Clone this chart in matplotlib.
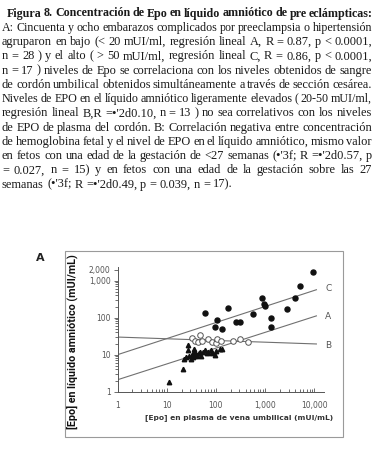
import matplotlib
matplotlib.use("Agg")
import matplotlib.pyplot as plt
from matplotlib.patches import Rectangle

W, H = 378, 453

# Caption lines (one entry per printed line)
caption = [
    "Figura 8. Concentración de Epo en líquido amniótico de pre eclámpticas:",
    "A: Cincuenta y ocho embarazos complicados por preeclampsia o hipertensión",
    "agruparon en bajo (< 20 mUI/ml, regresión lineal A, R = 0.87,  p < 0.0001,",
    "n = 28 ) y el alto ( > 50 mUI/ml,  regresión lineal C,      R = 0.86, p < 0.0001,",
    "n = 17 ) niveles de Epo se correlaciona con los niveles obtenidos de sangre",
    "de cordón umbilical obtenidos simultáneamente a  través de sección cesárea.",
    "Niveles de EPO en el líquido amniótico  ligeramente elevados ( 20-50 mUI/ml,",
    "regresión lineal B,R =•'2d0.10, n = 13 ) no sea correlativos con los niveles",
    "de EPO de plasma del cordón.  B: Correlación negativa entre concentración",
    "de hemoglobina fetal y el nivel de EPO en el líquido amniótico, mismo valor",
    "en  fetos con una edad de la gestación de <27 semanas (•'3f; R =•'2d0.57, p",
    "= 0.027,    n = 15) y en fetos con una edad de la gestación sobre las 27",
    "semanas (•'3f; R =•'2d0.49, p = 0.039,  n = 17).",
]

# Group A (triangles): low amniotic Epo
a_x = [11, 21, 22, 25, 27, 27, 29, 31, 32, 34, 35, 36, 38, 40, 42, 45, 48, 50,
       55, 60, 65, 70, 80, 85, 95, 100, 120, 130]
a_y = [1.8, 4.2, 7.8, 8.5, 18, 13, 9.5, 7.5, 10, 11, 8.5, 14, 12, 9.5, 10, 11,
       12, 9, 11.5, 13, 11, 12, 13, 11, 10, 12.5, 14, 14]
# Group B (open circles): slightly elevated
b_x = [33, 48, 38, 44, 52, 68, 82, 100, 105, 128, 220, 310, 450]
b_y = [29, 35, 24, 22, 24, 27, 22, 21, 26, 23, 23, 26, 22]
# Group C (filled circles): high
c_x = [60, 104, 95, 131, 174, 260, 310, 576, 850, 950, 1000, 1290, 1320,
       2750, 4040, 5120, 9300]
c_y = [136, 87, 55, 49, 178, 75, 77, 123, 332, 240, 205, 101, 57,
       170, 338, 700, 1670]

# Regression lines (end points)
line_x = [1, 11000]
line_a = [2.1, 112]
line_b = [30, 19.5]
line_c = [10, 570]

fig = plt.figure(figsize=(W / 100, H / 100), dpi=100)
renderer = fig.canvas.get_renderer()

# ---- justified caption ----
def put_line(text, y_px, x0, x1, justify=True, bold=False, size=8.9):
    words = text.split()
    kw = dict(fontsize=size, family="Liberation Serif", color="#1a1a1a",
              va="baseline", ha="left",
              fontweight="bold" if bold else "normal")
    arts = [fig.text(0, 1 - y_px / H, w, **kw) for w in words]
    widths = [a.get_window_extent(renderer).width for a in arts]
    sp = fig.text(0, 0, "a a", **kw)
    sp2 = fig.text(0, 0, "aa", **kw)
    space = sp.get_window_extent(renderer).width - sp2.get_window_extent(renderer).width
    sp.remove(); sp2.remove()
    gap = space
    if justify and len(words) > 1:
        gap = (x1 - x0 - sum(widths)) / (len(words) - 1)
        if gap < 0.6 * space:
            # squeeze the font a little so the line still fits
            for a in arts:
                a.remove()
            return put_line(text, y_px, x0, x1, justify, bold, size * 0.97)
    x = x0
    for a, w in zip(arts, widths):
        a.set_x(x / W)
        x += w + gap

line_h = 14.26
base0 = 16.5
for i, ln in enumerate(caption):
    if i == 0:
        put_line(ln, base0, 7, 373, bold=True)
    else:
        put_line(ln, base0 + i * line_h, 2, 372, justify=(i < len(caption) - 1))

# ---- panel frame ----
fig.patches.append(Rectangle((65 / W, 1 - 437 / H), (343 - 65) / W, (437 - 251) / H,
                             transform=fig.transFigure, fill=False,
                             edgecolor="#9a9a9a", linewidth=0.8))
fig.text(40 / W, 1 - 258 / H, "A", fontsize=8, fontweight="bold",
         family="DejaVu Sans", ha="center", va="center", color="#222222")

# ---- scatter panel ----
ax = fig.add_axes([117.5 / W, 1 - 391.7 / H, (324 - 117.5) / W, (391.7 - 266.7) / H])
ax.set_xscale("log")
ax.set_yscale("log")
ax.set_xlim(1, 15700)
ax.set_ylim(1, 2390)

ax.plot(line_x, line_a, color="#707070", lw=0.8)
ax.plot(line_x, line_b, color="#707070", lw=0.8)
ax.plot(line_x, line_c, color="#707070", lw=0.8)

ax.plot(a_x, a_y, "^", ms=3.2, color="#111111", mec="#111111", ls="none")
ax.plot(b_x, b_y, "o", ms=4.0, mfc="white", mec="#555555", mew=0.7, ls="none")
ax.plot(c_x, c_y, "o", ms=3.6, color="#111111", ls="none")

for lab, yv in zip(["C", "A", "B"], [630, 108, 18]):
    ax.text(16500, yv, lab, fontsize=6.5, color="#555555", ha="left", va="center",
            family="DejaVu Sans", clip_on=False)

for s in ["top", "right"]:
    ax.spines[s].set_visible(False)
for s in ["left", "bottom"]:
    ax.spines[s].set_color("#555555")
    ax.spines[s].set_linewidth(0.7)

ax.set_xticks([1, 10, 100, 1000, 10000])
ax.set_xticklabels(["1", "10", "100", "1,000", "10,000"])
ax.set_yticks([1, 10, 100, 1000, 2000])
ax.set_yticklabels(["1", "10", "100", "1,000", "2,000"])
ax.tick_params(axis="x", which="both", direction="in", colors="#555555",
               labelsize=5.5, pad=6.5, width=0.6)
ax.tick_params(axis="x", which="major", length=3)
ax.tick_params(axis="x", which="minor", length=2)
ax.tick_params(axis="y", which="both", direction="out", colors="#555555",
               labelsize=5.5, pad=2, width=0.6)
ax.tick_params(axis="y", which="major", length=3)
ax.tick_params(axis="y", which="minor", length=2)
ax.set_facecolor("none")

# axis titles, sized to the span they take in the reference
def fitted_text(x_px, y_px, s, span, rot, size0, **kw):
    t = fig.text(x_px / W, 1 - y_px / H, s, rotation=rot, ha="center",
                 va="center", fontsize=size0, **kw)
    bb = t.get_window_extent(renderer)
    cur = bb.height if rot == 90 else bb.width
    t.set_fontsize(size0 * span / cur)
    return t

fitted_text(72.7, 341.5, "[Epo] en líquido amniótico (mUI/mL)", 173, 90, 8,
            fontweight="bold", family="Roboto", color="#111111")
fitted_text(239, 418, "[Epo] en plasma de vena umbilical (mUI/mL)", 188, 0, 6,
            fontweight="bold", family="DejaVu Sans", color="#333333")

fig.savefig("out.png", dpi=100)
